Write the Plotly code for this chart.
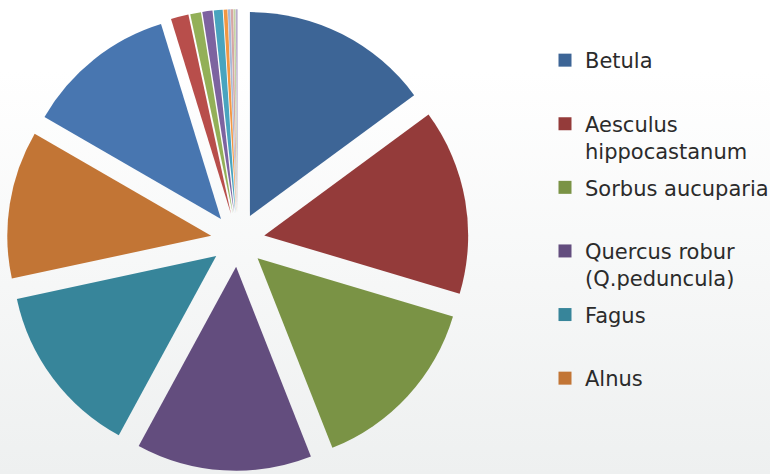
import base64
import plotly.graph_objects as go

# Tree species shares (percent); the trailing slices are minor species
species = ["Betula", "Aesculus hippocastanum", "Sorbus aucuparia",
           "Quercus robur (Q.peduncula)", "Fagus", "Alnus"]
legend_text = ["Betula", "Aesculus<br>hippocastanum", "Sorbus aucuparia",
               "Quercus robur<br>(Q.peduncula)", "Fagus", "Alnus"]
minor_labels = ["Other %d" % i for i in range(1, 11)]
labels = species + minor_labels
values = [14.9, 14.7, 14.4, 13.9, 13.7, 11.7,
          11.9, 1.4, 0.85, 0.8, 0.7, 0.3, 0.2, 0.2, 0.15, 0.15]
colors = ["#3D6596", "#943B3A", "#7A9345", "#634D7E", "#37859A", "#C27535",
          "#4876B0", "#B84E4B", "#93B058", "#7D63A0", "#49A4BF", "#F29743",
          "#A8B9D6", "#D6A6A5", "#C4D3A3", "#B7ABCB"]

W, H = 774, 474
pull = 0.132

fig = go.Figure()
fig.add_trace(go.Pie(
    labels=labels, values=values, sort=False, direction="clockwise",
    rotation=0, pull=[pull] * len(values), textinfo="none",
    marker=dict(colors=colors, line=dict(width=0)),
    showlegend=False,
    domain=dict(x=[7 / W, 471 / W], y=[2 / H, 466 / H]),
))

# Legend entries for the named species (padded to two lines for even spacing)
for i, txt in enumerate(legend_text):
    if "<br>" not in txt:
        txt = txt + "<br> "
    fig.add_trace(go.Scatter(
        x=[None], y=[None], mode="markers", name=txt,
        legendgroup="g%d" % i,
        marker=dict(symbol="square", size=13, color=colors[i]),
    ))

svg = ('<svg xmlns="http://www.w3.org/2000/svg" width="%d" height="%d" '
       'preserveAspectRatio="none"><defs><linearGradient id="g" x1="0" y1="0" '
       'x2="0" y2="1"><stop offset="0" stop-color="#ffffff"/>'
       '<stop offset="0.15" stop-color="#ffffff"/>'
       '<stop offset="1" stop-color="#eef0f0"/></linearGradient></defs>'
       '<rect width="%d" height="%d" fill="url(#g)"/></svg>') % (W, H, W, H)
bg = "data:image/svg+xml;base64," + base64.b64encode(svg.encode()).decode()

fig.update_layout(
    width=W, height=H,
    margin=dict(l=0, r=0, t=0, b=0),
    paper_bgcolor="#ffffff", plot_bgcolor="rgba(0,0,0,0)",
    xaxis=dict(visible=False), yaxis=dict(visible=False),
    images=[dict(source=bg, xref="paper", yref="paper", x=0, y=1,
                 sizex=1, sizey=1, xanchor="left", yanchor="top",
                 sizing="stretch", layer="below")],
    legend=dict(
        x=548 / W, y=1 - 40 / H, xanchor="left", yanchor="top",
        traceorder="grouped", tracegroupgap=6, valign="top",
        bgcolor="rgba(0,0,0,0)",
        font=dict(family="DejaVu Sans", size=21, color="#2b2b2b"),
    ),
    showlegend=True,
)

fig.write_html("out.html")
